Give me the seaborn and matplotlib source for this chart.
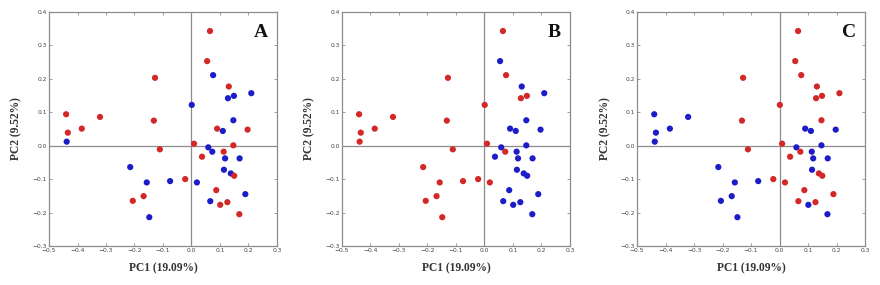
import matplotlib
matplotlib.use("Agg")
import matplotlib.pyplot as plt
import seaborn as sns
import pandas as pd

# Common PCA scores (PC1, PC2)
pc1 = [-0.440, -0.434, -0.438, -0.385, -0.321, -0.128, -0.132, -0.111, -0.215, -0.206,
       -0.157, -0.168, -0.148, -0.075, -0.022, 0.019, 0.001, 0.009, 0.065, 0.055,
       0.076, 0.131, 0.149, 0.128, 0.210, 0.147, 0.090, 0.110, 0.197, 0.147,
       0.059, 0.073, 0.037, 0.113, 0.118, 0.169, 0.114, 0.138, 0.150, 0.087,
       0.066, 0.126, 0.101, 0.189, 0.168]
pc2 = [0.094, 0.039, 0.012, 0.051, 0.086, 0.203, 0.075, -0.011, -0.064, -0.165,
       -0.110, -0.151, -0.214, -0.106, -0.100, -0.110, 0.122, 0.006, 0.343, 0.253,
       0.211, 0.177, 0.149, 0.142, 0.157, 0.076, 0.051, 0.044, 0.048, 0.001,
       -0.005, -0.018, -0.033, -0.018, -0.038, -0.038, -0.072, -0.083, -0.090, -0.133,
       -0.166, -0.169, -0.177, -0.145, -0.205]

# Group coloring for each panel (r = red group, b = blue group)
groups_A = ["r", "r", "b", "r", "r", "r", "r", "r", "b", "r",
            "b", "r", "b", "b", "r", "b", "b", "r", "r", "r",
            "b", "r", "b", "b", "b", "b", "r", "b", "r", "r",
            "b", "b", "r", "r", "b", "b", "b", "b", "r", "r",
            "b", "r", "r", "b", "r"]
groups_B = ["r", "r", "r", "r", "r", "r", "r", "r", "r", "r",
            "r", "r", "r", "r", "r", "r", "r", "r", "r", "b",
            "r", "b", "r", "r", "b", "b", "b", "b", "b", "b",
            "b", "r", "b", "b", "b", "b", "b", "b", "b", "b",
            "b", "b", "b", "b", "b"]
groups_C = ["b", "b", "b", "b", "b", "r", "r", "r", "b", "b",
            "b", "b", "b", "b", "r", "r", "r", "r", "r", "r",
            "r", "r", "r", "r", "r", "r", "b", "b", "b", "b",
            "b", "r", "r", "b", "b", "b", "b", "r", "r", "r",
            "r", "r", "b", "r", "b"]

panel_letters = ["A", "B", "C"]
x_ticks = [-0.5, -0.4, -0.3, -0.2, -0.1, 0.0, 0.1, 0.2, 0.3]
y_ticks = [-0.3, -0.2, -0.1, 0.0, 0.1, 0.2, 0.3, 0.4]
x_label = "PC1 (19.09%)"
y_label = "PC2 (9.52%)"

sns.set_style("white")
plt.rcParams["font.family"] = ["DejaVu Sans"]

palette = {"r": "#d42828", "b": "#1c1cc8"}
fig = plt.figure(figsize=(8.8, 2.85), dpi=100)
lefts = [0.0557, 0.3886, 0.7240]
gray = "#8c8c8c"

for left, letter, grp in zip(lefts, panel_letters, [groups_A, groups_B, groups_C]):
    ax = fig.add_axes([left, 0.137, 0.259, 0.821])
    df = pd.DataFrame({"PC1": pc1, "PC2": pc2, "group": grp})
    ax.axhline(0, color=gray, lw=0.9, zorder=1)
    ax.axvline(0, color=gray, lw=0.9, zorder=1)
    sns.scatterplot(data=df, x="PC1", y="PC2", hue="group", palette=palette,
                    s=20, edgecolor="none", legend=False, ax=ax, zorder=3)
    ax.set_xlim(-0.5, 0.3)
    ax.set_ylim(-0.3, 0.4)
    ax.set_xticks(x_ticks)
    ax.set_yticks(y_ticks)
    ax.set_xticklabels([f"{t:.1f}".replace("-", "\u2212") for t in x_ticks])
    ax.set_yticklabels([f"{t:.1f}".replace("-", "\u2212") for t in y_ticks])
    ax.tick_params(direction="in", length=2, width=0.6, color=gray, labelsize=4.3,
                   labelcolor="#444444", pad=1.5, top=True, right=True,
                   bottom=True, left=True)
    for sp in ax.spines.values():
        sp.set_color(gray)
        sp.set_linewidth(0.9)
        sp.set_visible(True)
    ax.set_xlabel(x_label, fontsize=8.3, fontweight="bold", family="Liberation Serif",
                  color="#333333", labelpad=7)
    ax.set_ylabel(y_label, fontsize=8.3, fontweight="bold", family="Liberation Serif",
                  color="#333333", labelpad=7)
    ax.text(0.96, 0.95, letter, transform=ax.transAxes, ha="right", va="top",
            fontsize=14, fontweight="bold", family="Liberation Serif", color="#111111")

fig.savefig("out.png", dpi=100)
